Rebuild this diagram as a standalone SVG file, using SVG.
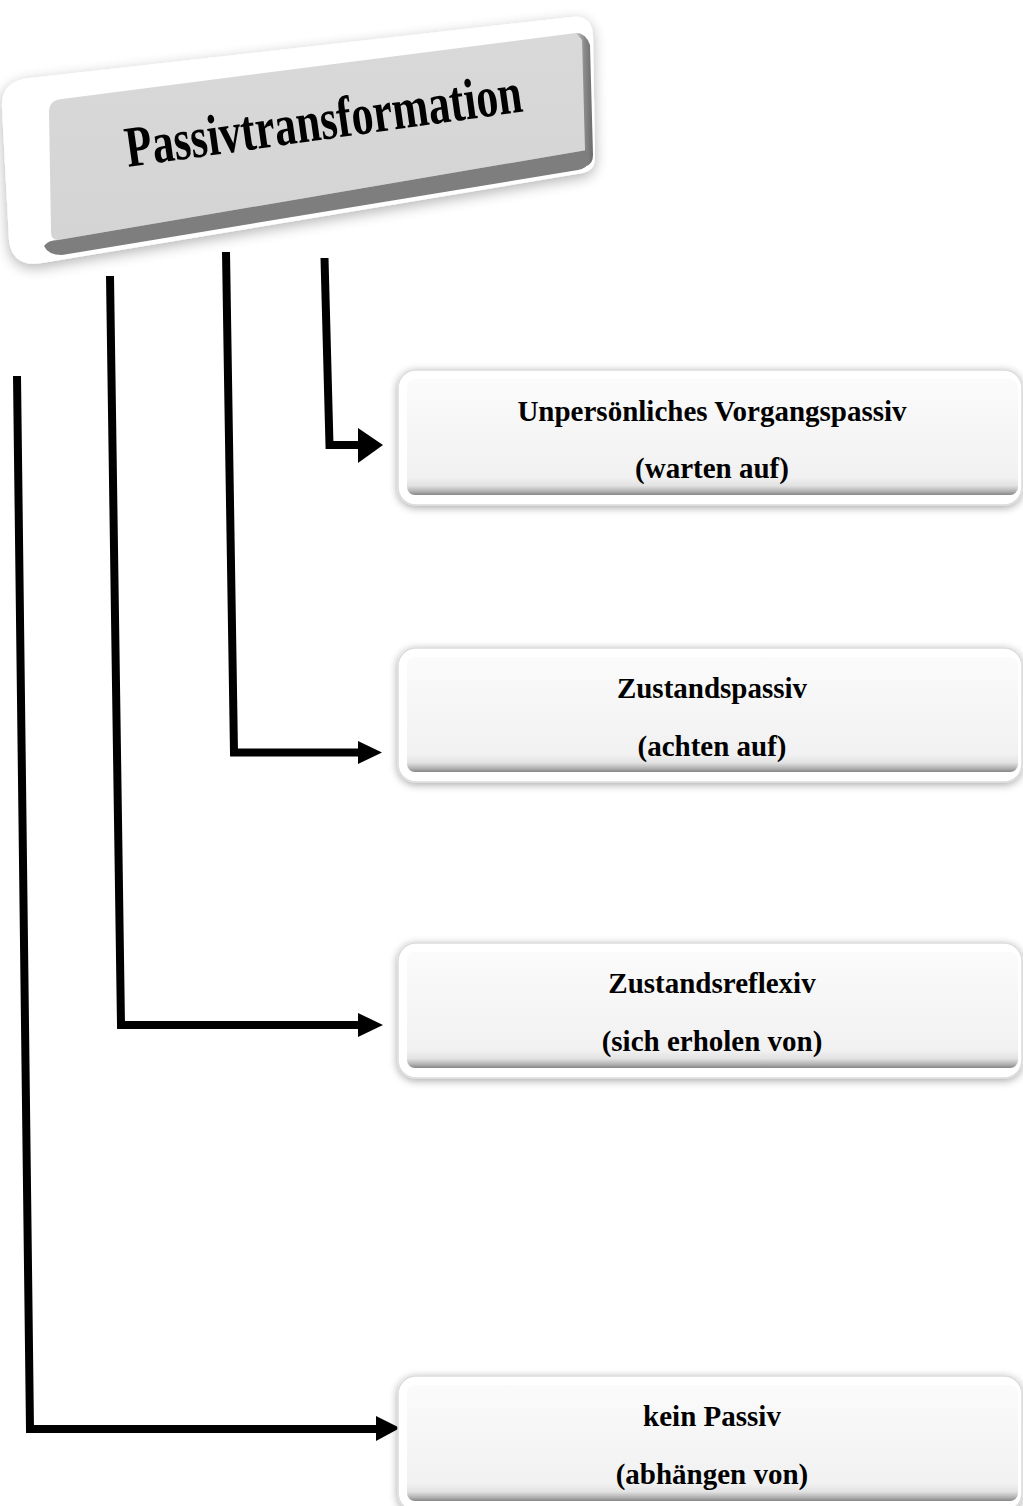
<svg xmlns="http://www.w3.org/2000/svg" width="1023" height="1506" viewBox="0 0 1023 1506">
<defs>
<filter id="shadow" x="-10%" y="-20%" width="120%" height="140%">
<feGaussianBlur in="SourceAlpha" stdDeviation="4"/>
<feOffset dx="0" dy="2" result="b"/>
<feComponentTransfer><feFuncA type="linear" slope="0.35"/></feComponentTransfer>
<feMerge><feMergeNode/><feMergeNode in="SourceGraphic"/></feMerge>
</filter>
<filter id="tshadow" x="-10%" y="-20%" width="120%" height="150%">
<feGaussianBlur in="SourceAlpha" stdDeviation="7"/>
<feOffset dx="0" dy="4" result="b"/>
<feComponentTransfer><feFuncA type="linear" slope="0.3"/></feComponentTransfer>
<feMerge><feMergeNode/><feMergeNode in="SourceGraphic"/></feMerge>
</filter>
<linearGradient id="face" x1="0" y1="0" x2="0" y2="1">
<stop offset="0" stop-color="#fbfbfb"/>
<stop offset="0.85" stop-color="#f1f1f1"/>
<stop offset="0.92" stop-color="#e2e2e2"/>
<stop offset="0.97" stop-color="#b0b0b0"/>
<stop offset="1" stop-color="#858585"/>
</linearGradient>
<linearGradient id="tface" x1="0" y1="0" x2="0" y2="1">
<stop offset="0" stop-color="#d9d9d9"/>
<stop offset="1" stop-color="#d4d4d4"/>
</linearGradient>
<linearGradient id="redge" x1="0" y1="0" x2="1" y2="0">
<stop offset="0" stop-color="#c8c8c8"/>
<stop offset="0.5" stop-color="#8a8a8a"/>
<stop offset="1" stop-color="#6a6a6a"/>
</linearGradient>
<style>
.outer{fill:#ffffff;stroke:#dcdcdc;stroke-width:1.5}
.inner{fill:url(#face)}
.lbl{font-family:"Liberation Serif","Times New Roman",serif;font-weight:bold;font-size:29px;fill:#000;text-anchor:middle}
.conn{fill:none;stroke:#000;stroke-width:8;stroke-linejoin:miter;stroke-linecap:butt}
.head{fill:#000}
</style>
</defs>

<g id="title">
<path d="M 30,78 L 572,17 Q 592,15 593,36 L 595,158 Q 595,170 583,173 L 42,263 Q 12,268 9,240 L 2,108 Q 0,81 30,78 Z" fill="#ffffff" filter="url(#tshadow)"/>
<path d="M 62,99 L 576,33 Q 584,32 585,42 L 587,150 L 58,240 Q 51,240 51,232 L 49,112 Q 49,100 62,99 Z" fill="url(#tface)"/>
<path d="M 576,33 Q 586,33 590,45 L 593,155 Q 593,163 587,166 L 585,150 L 582,40 Z" fill="url(#redge)"/>
<path d="M 58,240 L 587,150 L 590,160 Q 588,168 578,170 L 62,255 Q 48,255 44,246 Q 48,240 58,240 Z" fill="#7e7e7e"/>
<text x="128" y="167" transform="rotate(-8 128 167)" textLength="400" lengthAdjust="spacingAndGlyphs" style="font-family:'Liberation Serif','Times New Roman',serif;font-weight:bold;font-size:58px;fill:#000">Passivtransformation</text>
</g>

<g id="connectors">
<polyline class="conn" points="324.5,258 329.5,445 358,445"/>
<polygon class="head" points="358,428 383,445 358,463"/>
<polyline class="conn" points="226,252 234,752.5 360,752.5"/>
<polygon class="head" points="358,741 382,752.5 358,764"/>
<polyline class="conn" points="110,276 121,1025 360,1025"/>
<polygon class="head" points="358,1013 383,1025 358,1037"/>
<polyline class="conn" points="17,376 30,1429 378,1429"/>
<polygon class="head" points="376,1416 400,1428 376,1441"/>
</g>

<g id="node1">
<rect class="outer" x="398" y="370" width="624" height="135" rx="18" filter="url(#shadow)"/>
<rect class="inner" x="407" y="379" width="611" height="116" rx="8"/>
<text class="lbl" x="712" y="421">Unpersönliches Vorgangspassiv</text>
<text class="lbl" x="712" y="478">(warten auf)</text>
</g>

<g id="node2">
<rect class="outer" x="398" y="648" width="624" height="134" rx="18" filter="url(#shadow)"/>
<rect class="inner" x="407" y="657" width="611" height="115" rx="8"/>
<text class="lbl" x="712" y="698">Zustandspassiv</text>
<text class="lbl" x="712" y="756">(achten auf)</text>
</g>

<g id="node3">
<rect class="outer" x="398" y="943" width="624" height="135" rx="18" filter="url(#shadow)"/>
<rect class="inner" x="407" y="952" width="611" height="116" rx="8"/>
<text class="lbl" x="712" y="993">Zustandsreflexiv</text>
<text class="lbl" x="712" y="1051">(sich erholen von)</text>
</g>

<g id="node4">
<rect class="outer" x="398" y="1376" width="624" height="135" rx="18" filter="url(#shadow)"/>
<rect class="inner" x="407" y="1385" width="611" height="116" rx="8"/>
<text class="lbl" x="712" y="1426">kein Passiv</text>
<text class="lbl" x="712" y="1484">(abhängen von)</text>
</g>
</svg>
